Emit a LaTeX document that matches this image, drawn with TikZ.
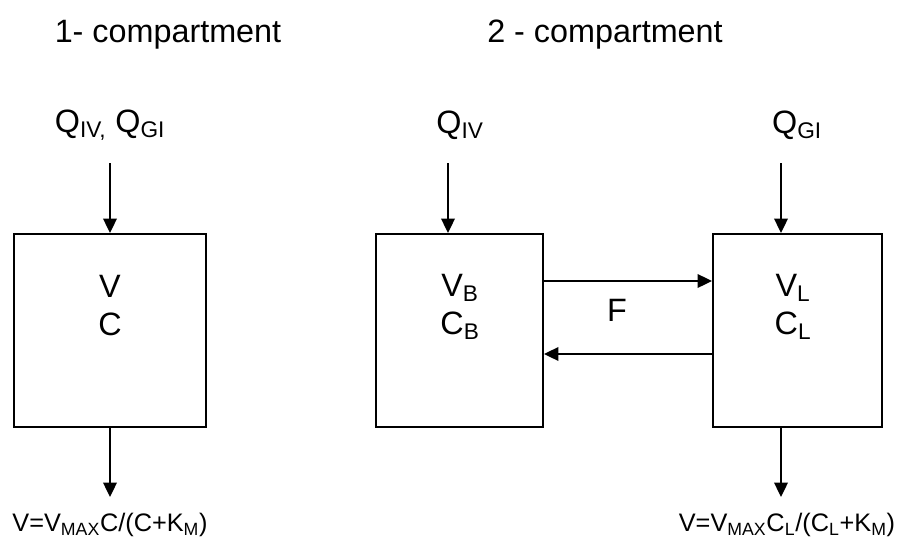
\documentclass[tikz,border=0pt]{standalone}
\usepackage{fontspec}
\setmainfont{Liberation Sans}
\usetikzlibrary{arrows.meta,positioning}
\tikzset{
  comp/.style={draw, rectangle, line width=1.4pt, inner sep=0pt, minimum height=4.825cm},
  txt/.style={font=\fontsize{23}{27}\selectfont, inner sep=0pt, align=center},
  eqn/.style={font=\fontsize{18}{22}\selectfont, inner sep=0pt},
  arr/.style={-{Triangle[length=3.6mm,width=3.4mm]}, line width=1.2pt}
}

\begin{document}
\begin{tikzpicture}[x=0.025cm,y=-0.025cm]
\useasboundingbox (0,0) rectangle (901,540);
\node[txt] (title1) at (168,35) {1- compartment};
\node[txt] (title2) at (605,35) {2 - compartment};
\node[txt] (qone) at (110,125) {Q\textsubscript{IV,} Q\textsubscript{GI}};
\node[txt] (qiv) at (460,125) {Q\textsubscript{IV}};
\node[txt] (qgi) at (797,125) {Q\textsubscript{GI}};
\node[comp, minimum width=4.8cm] (one) at (110,330.5) {};
\node[comp, minimum width=4.175cm] (blood) at (459.5,330.5) {};
\node[comp, minimum width=4.225cm] (liver) at (797.5,330.5) {};
\node[txt] (vone) at (110,306) {V\\C};
\node[txt] (vblood) at (460,307) {V\textsubscript{B}\\C\textsubscript{B}};
\node[txt] (vliver) at (793,307) {V\textsubscript{L}\\C\textsubscript{L}};
\node[txt] (flow) at (617,310) {F};
\coordinate (inone) at (110,163);
\coordinate (inblood) at (448,163);
\coordinate (inliver) at (781,163);
\coordinate (outone) at (110,497);
\coordinate (outliver) at (781,497);
\draw[arr] (inone) -- (one.north);
\draw[arr] (inblood) -- (inblood |- blood.north);
\draw[arr] (inliver) -- (inliver |- liver.north);
\draw[arr] (one.south) -- (outone);
\draw[arr] (outliver |- liver.south) -- (outliver);
\draw[arr] (blood.east |- 0,281) -- (liver.west |- 0,281);
\draw[arr] (liver.west |- 0,354) -- (blood.east |- 0,354);
\node[eqn] (elim1) at (110,525) {V=V\textsubscript{MAX}C/(C+K\textsubscript{M})};
\node[eqn] (elim2) at (787,525) {V=V\textsubscript{MAX}C\textsubscript{L}/(C\textsubscript{L}+K\textsubscript{M})};
\end{tikzpicture}
\end{document}
